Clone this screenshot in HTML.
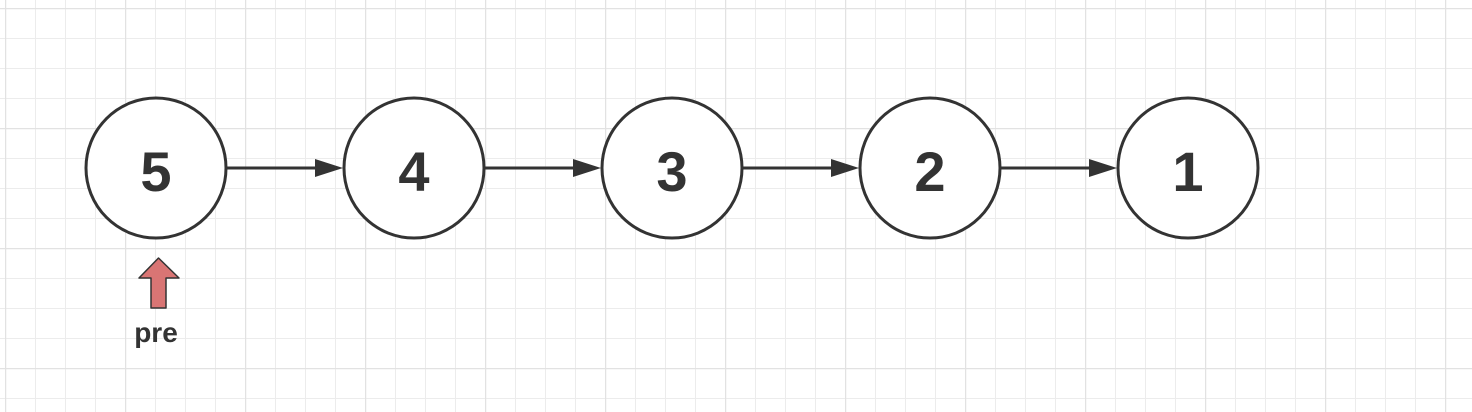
<!DOCTYPE html>
<html><head><style>body{margin:0;background:#fff}svg{display:block}</style></head><body>
<svg width="1472" height="412" xmlns="http://www.w3.org/2000/svg">
<defs>
<pattern id="g" width="30" height="30" patternUnits="userSpaceOnUse" x="5" y="8">
<path d="M0 0H30M0 0V30" stroke="#ececec" stroke-width="2" fill="none"/>
</pattern>
<pattern id="G" width="120" height="120" patternUnits="userSpaceOnUse" x="5" y="8">
<path d="M0 0H120M0 0V120" stroke="#e2e2e2" stroke-width="2.5" fill="none"/>
</pattern>
</defs>
<rect width="1472" height="412" fill="url(#g)"/>
<rect width="1472" height="412" fill="url(#G)"/>
<g stroke="#333" stroke-width="3" fill="#fff">
<circle cx="156" cy="168" r="70"/>
<circle cx="414" cy="168" r="70"/>
<circle cx="672" cy="168" r="70"/>
<circle cx="930" cy="168" r="70"/>
<circle cx="1188" cy="168" r="70"/>
</g>
<g stroke="#333" stroke-width="3">
<line x1="227" y1="168" x2="318" y2="168"/>
<line x1="485" y1="168" x2="576" y2="168"/>
<line x1="743" y1="168" x2="834" y2="168"/>
<line x1="1001" y1="168" x2="1092" y2="168"/>
</g>
<g fill="#333">
<path d="M343 168L315 159L315 177Z"/>
<path d="M601 168L573 159L573 177Z"/>
<path d="M859 168L831 159L831 177Z"/>
<path d="M1117 168L1089 159L1089 177Z"/>
</g>
<g font-family="Liberation Sans, sans-serif" font-size="56" font-weight="bold" fill="#333" text-anchor="middle">
<text x="156" y="191">5</text>
<text x="414" y="191">4</text>
<text x="672" y="191">3</text>
<text x="930" y="191">2</text>
<text x="1188" y="191">1</text>
</g>
<path d="M158.5 258L179 278H166V308H151V278H139Z" fill="#d97574" stroke="#333" stroke-width="1.5" stroke-linejoin="round"/>
<text x="156" y="342" font-family="Liberation Sans, sans-serif" font-size="28" font-weight="bold" fill="#333" text-anchor="middle">pre</text>
</svg>
</body></html>
